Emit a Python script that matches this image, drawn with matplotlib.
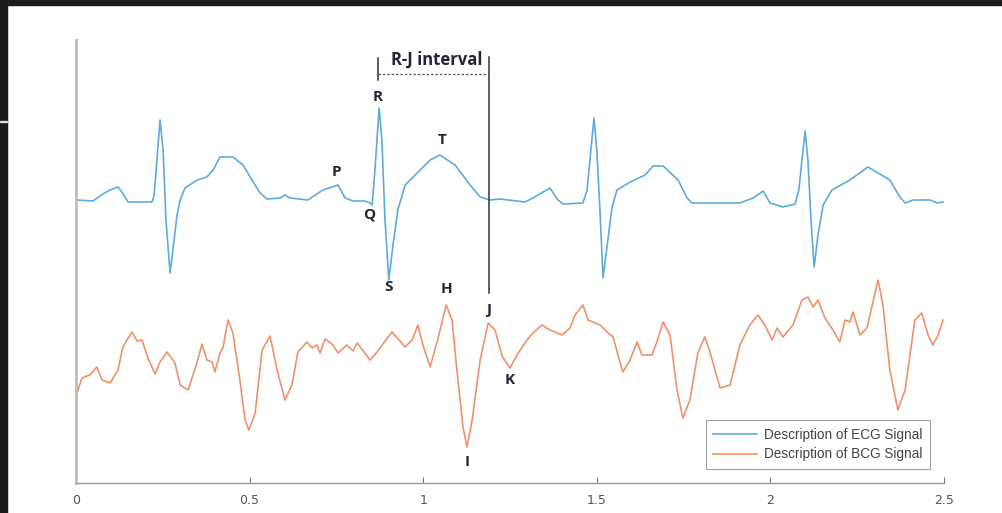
import numpy as np
import matplotlib
matplotlib.use("Agg")
import matplotlib.pyplot as plt
from matplotlib.patches import Rectangle

# ECG trace: time [s] and amplitude [mV] about baseline
ecg_t = [0.003, 0.049, 0.078, 0.098, 0.121, 0.132, 0.150, 0.219, 0.225, 0.233,
         0.242, 0.251, 0.259, 0.271, 0.279, 0.291, 0.300, 0.314, 0.349, 0.377,
         0.395, 0.415, 0.452, 0.481, 0.507, 0.530, 0.550, 0.588, 0.602, 0.616,
         0.668, 0.711, 0.755, 0.775, 0.798, 0.832, 0.847, 0.853, 0.861, 0.873,
         0.881, 0.890, 0.901, 0.913, 0.927, 0.948, 0.991, 1.020, 1.048, 1.092,
         1.135, 1.164, 1.192, 1.221, 1.293, 1.316, 1.365, 1.388, 1.403, 1.460,
         1.472, 1.483, 1.492, 1.500, 1.509, 1.518, 1.530, 1.544, 1.558, 1.596,
         1.639, 1.662, 1.691, 1.734, 1.760, 1.774, 1.912, 1.950, 1.979, 1.999,
         2.036, 2.071, 2.082, 2.091, 2.100, 2.108, 2.117, 2.126, 2.137, 2.152,
         2.177, 2.229, 2.281, 2.344, 2.373, 2.388, 2.411, 2.460, 2.480, 2.497]
ecg_v = [0.00, -0.01, 0.06, 0.10, 0.13, 0.08, -0.02, -0.02, 0.05, 0.40,
         0.80, 0.50, -0.20, -0.73, -0.50, -0.15, 0.00, 0.12, 0.20, 0.23,
         0.30, 0.43, 0.43, 0.35, 0.20, 0.07, 0.01, 0.02, 0.05, 0.02,
         0.00, 0.10, 0.15, 0.02, -0.01, -0.01, -0.03, -0.05, 0.30, 0.92,
         0.60, -0.20, -0.80, -0.45, -0.10, 0.15, 0.30, 0.40, 0.45, 0.35,
         0.15, 0.03, 0.00, 0.01, -0.02, 0.02, 0.12, 0.00, -0.04, -0.03,
         0.10, 0.50, 0.82, 0.50, -0.10, -0.78, -0.45, -0.07, 0.10, 0.18,
         0.25, 0.34, 0.34, 0.20, 0.02, -0.03, -0.03, 0.02, 0.09, -0.03,
         -0.07, -0.04, 0.10, 0.40, 0.69, 0.40, -0.20, -0.67, -0.35, -0.05,
         0.10, 0.20, 0.33, 0.20, 0.03, -0.03, 0.00, 0.00, -0.03, -0.02]

# BCG trace: time [s] and amplitude [a.u.]
bcg_t = [0.003, 0.017, 0.040, 0.060, 0.075, 0.098, 0.121, 0.135, 0.161, 0.176,
         0.190, 0.207, 0.228, 0.242, 0.262, 0.285, 0.300, 0.323, 0.349, 0.363,
         0.377, 0.392, 0.400, 0.415, 0.423, 0.438, 0.452, 0.472, 0.487, 0.498,
         0.516, 0.536, 0.559, 0.579, 0.602, 0.622, 0.639, 0.665, 0.680, 0.694,
         0.703, 0.717, 0.740, 0.755, 0.780, 0.798, 0.810, 0.847, 0.867, 0.910,
         0.948, 0.968, 0.985, 0.999, 1.020, 1.043, 1.066, 1.083, 1.097, 1.115,
         1.126, 1.141, 1.164, 1.187, 1.207, 1.227, 1.250, 1.270, 1.299, 1.316,
         1.342, 1.365, 1.400, 1.423, 1.437, 1.460, 1.475, 1.509, 1.530, 1.547,
         1.561, 1.575, 1.596, 1.616, 1.630, 1.659, 1.673, 1.691, 1.711, 1.731,
         1.748, 1.768, 1.791, 1.811, 1.826, 1.855, 1.884, 1.912, 1.941, 1.964,
         1.984, 2.005, 2.019, 2.036, 2.065, 2.091, 2.108, 2.123, 2.137, 2.157,
         2.180, 2.200, 2.215, 2.229, 2.238, 2.258, 2.278, 2.310, 2.324, 2.344,
         2.367, 2.388, 2.416, 2.436, 2.454, 2.468, 2.483, 2.497]
bcg_v = [-0.33, -0.18, -0.15, -0.07, -0.20, -0.23, -0.10, 0.13, 0.28, 0.19,
         0.20, 0.02, -0.14, -0.02, 0.08, -0.03, -0.25, -0.30, -0.02, 0.16,
         0.00, -0.02, -0.12, 0.07, 0.12, 0.40, 0.27, -0.20, -0.60, -0.70,
         -0.53, 0.10, 0.24, -0.10, -0.40, -0.25, 0.08, 0.18, 0.12, 0.15,
         0.07, 0.21, 0.15, 0.07, 0.15, 0.09, 0.17, 0.00, 0.08, 0.28,
         0.13, 0.20, 0.35, 0.15, -0.07, 0.22, 0.55, 0.40, -0.10, -0.68,
         -0.87, -0.60, 0.00, 0.37, 0.30, 0.04, -0.08, 0.05, 0.20, 0.27,
         0.35, 0.30, 0.25, 0.32, 0.45, 0.55, 0.40, 0.35, 0.28, 0.23,
         0.05, -0.12, 0.00, 0.18, 0.05, 0.05, 0.18, 0.38, 0.25, -0.30,
         -0.58, -0.40, 0.07, 0.23, 0.08, -0.28, -0.25, 0.15, 0.35, 0.45,
         0.35, 0.20, 0.32, 0.23, 0.35, 0.60, 0.63, 0.53, 0.60, 0.42,
         0.30, 0.18, 0.40, 0.38, 0.48, 0.25, 0.32, 0.80, 0.55, -0.10,
         -0.50, -0.30, 0.40, 0.47, 0.25, 0.15, 0.25, 0.40]

x_ticks = [0, 0.5, 1, 1.5, 2, 2.5]
x_tick_labels = ["0", "0.5", "1", "1.5", "2", "2.5"]
legend_labels = ["Description of ECG Signal", "Description of BCG Signal"]

ecg_color = "#5eabe0"
bcg_color = "#f0916c"
mark_color = "#23233a"

ECG_OFFSET = 2.83
BCG_OFFSET = 1.23

fig = plt.figure(figsize=(10.02, 5.13), dpi=100)
ax = fig.add_axes([76 / 1002, 30 / 513, 868 / 1002, 443 / 513])

ax.plot(ecg_t, np.array(ecg_v) + ECG_OFFSET, color=ecg_color, lw=1.2,
        label=legend_labels[0])
ax.plot(bcg_t, np.array(bcg_v) + BCG_OFFSET, color=bcg_color, lw=1.2,
        label=legend_labels[1])

ax.set_xlim(0, 2.5)
ax.set_ylim(0, 4.43)
ax.set_xticks(x_ticks)
ax.set_xticklabels(x_tick_labels)
ax.set_yticks([])
ax.tick_params(axis="x", direction="in", length=4, width=0.8, colors="#777777",
               labelcolor="#555555", labelsize=9, pad=8)
for s in ("top", "right"):
    ax.spines[s].set_visible(False)
ax.spines["left"].set_color("#bdbdbd")
ax.spines["left"].set_linewidth(2)
ax.spines["bottom"].set_color("#9a9a9a")
ax.spines["bottom"].set_linewidth(1)

# wave labels
label_font = dict(fontsize=11, fontweight="bold", color=mark_color,
                  family="Open Sans", ha="center", va="center")
points = {"R": (0.870, 3.86), "P": (0.749, 3.11), "Q": (0.844, 2.68),
          "T": (1.054, 3.43), "S": (0.899, 1.96), "H": (1.066, 1.94),
          "J": (1.190, 1.73), "K": (1.250, 1.03), "I": (1.126, 0.21)}
for name, (px, py) in points.items():
    ax.text(px, py, name, **label_font)

# R-J interval marker
ax.plot([1.190, 1.190], [1.90, 4.26], color="#333333", lw=1.1)
ax.plot([0.870, 0.870], [4.03, 4.25], color="#333333", lw=1.1)
ax.plot([0.870, 1.190], [4.09, 4.09], color="#555555", lw=0.9, ls=(0, (2, 1.5)))
ax.text(1.040, 4.23, "R-J interval", **dict(label_font, fontsize=12))

leg = ax.legend(loc="lower right", bbox_to_anchor=(0.984, 0.032),
                borderaxespad=0, frameon=True, fancybox=False,
                edgecolor="#8a8a8a", handlelength=3.2, handletextpad=0.55,
                borderpad=0.55, labelspacing=0.4,
                prop={"family": "Liberation Sans", "size": 9.8})
leg.get_frame().set_linewidth(0.8)
for txt in leg.get_texts():
    txt.set_color("#444444")

# dark screen border
fig.patches.append(Rectangle((0, 0), 7 / 1002, 1, transform=fig.transFigure,
                             color="#1b1b1b", zorder=5))
fig.patches.append(Rectangle((0, 1 - 5 / 513), 1, 5 / 513,
                             transform=fig.transFigure, color="#1b1b1b", zorder=5))
fig.patches.append(Rectangle((0, 1 - 122 / 513), 7 / 1002, 1.5 / 513,
                             transform=fig.transFigure, color="#dddddd", zorder=6))

fig.savefig("out.png", dpi=100)
